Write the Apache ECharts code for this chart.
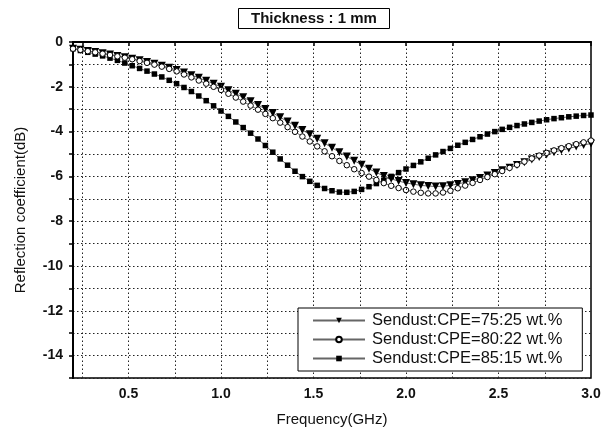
<!DOCTYPE html>
<html>
<head>
<meta charset="utf-8">
<script src="https://cdn.jsdelivr.net/npm/echarts@6/dist/echarts.min.js"></script>
<style>
  html, body { margin: 0; padding: 0; background: #fff; }
  #chart { width: 614px; height: 432px; }
</style>
</head>
<body>
<div id="chart"></div>
<script>
// frequency points (GHz)
const freq = [0.20, 0.24, 0.28, 0.32, 0.36, 0.40, 0.44, 0.48, 0.52, 0.56,
  0.60, 0.64, 0.68, 0.72, 0.76, 0.80, 0.84, 0.88, 0.92, 0.96,
  1.00, 1.04, 1.08, 1.12, 1.16, 1.20, 1.24, 1.28, 1.32, 1.36,
  1.40, 1.44, 1.48, 1.52, 1.56, 1.60, 1.64, 1.68, 1.72, 1.76,
  1.80, 1.84, 1.88, 1.92, 1.96, 2.00, 2.04, 2.08, 2.12, 2.16,
  2.20, 2.24, 2.28, 2.32, 2.36, 2.40, 2.44, 2.48, 2.52, 2.56,
  2.60, 2.64, 2.68, 2.72, 2.76, 2.80, 2.84, 2.88, 2.92, 2.96, 3.00]

// Sendust:CPE=75:25 wt.%
const s75 = [-0.30, -0.35, -0.40, -0.45, -0.50, -0.56, -0.62, -0.68, -0.75, -0.82,
  -0.89, -0.97, -1.06, -1.15, -1.25, -1.36, -1.48, -1.60, -1.73, -1.86,
  -2.00, -2.15, -2.31, -2.47, -2.64, -2.81, -2.99, -3.17, -3.36, -3.55,
  -3.74, -3.93, -4.12, -4.32, -4.52, -4.72, -4.92, -5.11, -5.30, -5.48,
  -5.66, -5.83, -5.98, -6.11, -6.21, -6.29, -6.35, -6.40, -6.43, -6.45,
  -6.44, -6.40, -6.34, -6.26, -6.17, -6.07, -5.96, -5.85, -5.73, -5.61,
  -5.49, -5.37, -5.25, -5.13, -5.02, -4.92, -4.83, -4.75, -4.67, -4.60, -4.53]

// Sendust:CPE=80:22 wt.%
const s80 = [-0.30, -0.35, -0.41, -0.46, -0.52, -0.58, -0.64, -0.70, -0.77, -0.85,
  -0.93, -1.01, -1.10, -1.20, -1.31, -1.45, -1.58, -1.72, -1.86, -2.00,
  -2.14, -2.31, -2.48, -2.66, -2.84, -3.02, -3.21, -3.40, -3.60, -3.80,
  -4.01, -4.22, -4.44, -4.66, -4.88, -5.10, -5.31, -5.50, -5.68, -5.85,
  -6.01, -6.16, -6.30, -6.42, -6.52, -6.61, -6.68, -6.73, -6.76, -6.76,
  -6.72, -6.64, -6.53, -6.41, -6.29, -6.16, -6.03, -5.90, -5.76, -5.62,
  -5.48, -5.34, -5.20, -5.07, -4.95, -4.84, -4.74, -4.65, -4.56, -4.48, -4.40]

// Sendust:CPE=85:15 wt.%
const s85 = [-0.30, -0.38, -0.46, -0.54, -0.62, -0.72, -0.82, -0.94, -1.06, -1.18,
  -1.30, -1.43, -1.56, -1.71, -1.86, -2.03, -2.21, -2.41, -2.62, -2.85,
  -3.08, -3.32, -3.57, -3.82, -4.07, -4.33, -4.62, -4.92, -5.22, -5.50,
  -5.77, -6.01, -6.22, -6.40, -6.54, -6.64, -6.70, -6.71, -6.67, -6.58,
  -6.46, -6.32, -6.17, -6.00, -5.83, -5.67, -5.51, -5.35, -5.19, -5.04,
  -4.89, -4.75, -4.61, -4.48, -4.35, -4.23, -4.11, -4.00, -3.90, -3.81,
  -3.73, -3.66, -3.59, -3.53, -3.47, -3.42, -3.38, -3.34, -3.31, -3.28, -3.26]

const names = ['Sendust:CPE=75:25 wt.%', 'Sendust:CPE=80:22 wt.%', 'Sendust:CPE=85:15 wt.%']

// axis ticks / labels
const xLabelValues = [0.5, 1.0, 1.5, 2.0, 2.5, 3.0]
const xTickValues = [0.25, 0.5, 0.75, 1.0, 1.25, 1.5, 1.75, 2.0, 2.25, 2.5, 2.75, 3.0]
const xGridValues = [0.25, 0.5, 0.75, 1.0, 1.25, 1.5, 1.75, 2.0, 2.25, 2.5, 2.75]

const pair = (ys) => freq.map((x, i) => [x, ys[i]])

const myChart = echarts.init(document.getElementById('chart'))

const dotted = { color: '#222', type: [1.5, 2.5], width: 1 }
const fontFamily = 'Liberation Sans, Arial, sans-serif'

const option = {
  animation: false,
  backgroundColor: '#fff',
  textStyle: { fontFamily: fontFamily },
  title: {
    text: 'Thickness : 1 mm',
    left: 238,
    top: 8,
    padding: [3, 13, 3, 13],
    borderColor: '#000',
    borderWidth: 1,
    textStyle: { fontSize: 15, fontWeight: 'bold', color: '#111', fontFamily: fontFamily }
  },
  legend: {
    data: names,
    orient: 'vertical',
    left: 298,
    top: 308,
    z: 20,
    padding: [4, 20, 4, 14],
    itemGap: 2,
    itemWidth: 52,
    itemHeight: 7,
    borderColor: '#000',
    borderWidth: 1,
    backgroundColor: '#fff',
    textStyle: { fontSize: 16.5, color: '#111', fontFamily: fontFamily, padding: [0, 0, 0, 2] }
  },
  grid: {
    left: 73,
    right: 23,
    top: 42,
    bottom: 54,
    show: true,
    borderColor: '#000',
    borderWidth: 1.5
  },
  xAxis: {
    type: 'value',
    min: 0.2,
    max: 3.0,
    name: 'Frequency(GHz)',
    nameLocation: 'middle',
    nameGap: 34,
    nameTextStyle: { fontSize: 15, color: '#111' },
    axisLine: { show: true, lineStyle: { color: '#000', width: 2 } },
    axisTick: { show: true, inside: false, length: 4, customValues: xTickValues, lineStyle: { color: '#000', width: 1.5 } },
    axisLabel: {
      customValues: xLabelValues,
      margin: 9,
      fontSize: 14,
      fontWeight: 'bold',
      color: '#111',
      formatter: v => v.toFixed(1)
    },
    splitLine: { show: false }
  },
  yAxis: {
    type: 'value',
    min: -15,
    max: 0,
    interval: 1,
    name: 'Reflection coefficient(dB)',
    nameLocation: 'middle',
    nameGap: 45,
    nameTextStyle: { fontSize: 15, color: '#111' },
    axisLine: { show: true, lineStyle: { color: '#000', width: 2 } },
    axisTick: { show: true, inside: false, length: 4, lineStyle: { color: '#000', width: 1.5 } },
    axisLabel: {
      margin: 10,
      fontSize: 14,
      fontWeight: 'bold',
      color: '#111',
      formatter: v => (v % 2 === 0 ? String(v) : '')
    },
    splitLine: { show: true, lineStyle: dotted }
  },
  series: [
    {
      // vertical dotted grid lines
      name: 'grid',
      type: 'line',
      data: [],
      silent: true,
      z: 1,
      markLine: {
        silent: true,
        symbol: 'none',
        label: { show: false },
        lineStyle: dotted,
        data: xGridValues.map(v => ({ xAxis: v }))
      }
    },
    {
      name: names[0],
      type: 'line',
      data: pair(s75),
      z: 3,
      symbol: 'triangle',
      symbolRotate: 180,
      symbolSize: 8,
      showAllSymbol: true,
      itemStyle: { color: '#000' },
      lineStyle: { color: '#666', width: 1 }
    },
    {
      name: names[1],
      type: 'line',
      data: pair(s80),
      z: 4,
      symbol: 'circle',
      symbolSize: 5.5,
      showAllSymbol: true,
      itemStyle: { color: '#fff', borderColor: '#000', borderWidth: 1 },
      lineStyle: { color: '#666', width: 1 }
    },
    {
      name: names[2],
      type: 'line',
      data: pair(s85),
      z: 3,
      symbol: 'rect',
      symbolSize: 5.5,
      showAllSymbol: true,
      itemStyle: { color: '#000' },
      lineStyle: { color: '#666', width: 1 }
    }
  ]
}

myChart.setOption(option)
window.addEventListener('resize', () => {
  myChart.resize()
})
</script>
</body>
</html>
